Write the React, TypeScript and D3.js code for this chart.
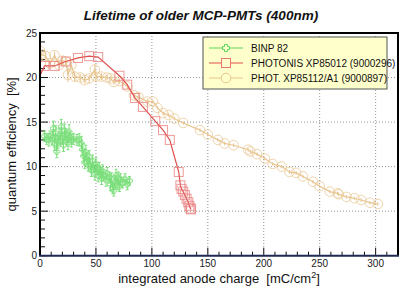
import React from "react";
import * as d3 from "d3";

const title = "Lifetime of older MCP-PMTs (400nm)";
const xTitle = "integrated anode charge\u00a0\u00a0[mC/cm";
const yTitle = "quantum efficiency\u00a0\u00a0[%]";
const seriesNames = ["BINP 82", "PHOTONIS XP85012 (9000296)", "PHOT. XP85112/A1 (9000897)"];
const xTicks = [0, 50, 100, 150, 200, 250, 300];
const yTicks = [0, 5, 10, 15, 20, 25];

// BINP 82: [x, y, err]
const binp: [number, number, number][] = [
  [4, 13.4, 0.6], [6, 13.1, 0.6], [8, 13.0, 0.7], [9, 13.4, 0.6], [11, 13.2, 0.7], [12, 14.3, 0.8],
  [13, 12.5, 0.7], [14, 13.8, 0.8], [15, 11.7, 0.7], [16, 12.8, 0.7], [17, 13.5, 0.8], [18, 12.9, 0.6],
  [19, 14.5, 0.8], [20, 13.2, 0.7], [21, 12.4, 0.7], [22, 14.0, 0.8], [23, 13.6, 0.7], [24, 13.1, 0.6],
  [25, 12.6, 0.7], [26, 13.9, 0.8], [27, 13.3, 0.6], [28, 12.9, 0.7], [30, 13.1, 0.6], [33, 13.0, 0.6],
  [35, 13.0, 0.7], [37, 12.6, 0.8], [38, 11.9, 0.7], [39, 11.2, 0.7], [40, 10.5, 0.7], [41, 11.6, 0.8],
  [42, 10.9, 0.7], [43, 10.2, 0.7], [44, 11.1, 0.7], [45, 10.0, 0.6], [46, 9.6, 0.7], [47, 10.6, 0.7],
  [48, 9.9, 0.6], [49, 9.2, 0.7], [50, 10.3, 0.7], [51, 9.7, 0.6], [52, 9.0, 0.7], [53, 9.8, 0.7],
  [54, 9.3, 0.6], [55, 8.7, 0.7], [56, 9.5, 0.7], [57, 9.0, 0.6], [59, 8.5, 0.7], [60, 9.2, 0.7],
  [62, 8.8, 0.6], [63, 8.0, 0.7], [64, 8.6, 0.7], [65, 7.6, 0.6], [66, 7.3, 0.6], [67, 8.3, 0.7],
  [68, 9.0, 0.7], [69, 8.0, 0.6], [70, 8.7, 0.7], [71, 7.8, 0.6], [72, 8.5, 0.7], [74, 8.2, 0.6],
  [76, 8.6, 0.6], [78, 8.0, 0.6], [80, 8.4, 0.5],
];

// PHOTONIS XP85012
const photonis: [number, number][] = [
  [0, 20.2], [4, 21.3], [13, 21.3], [23, 21.8], [34, 22.2], [44, 22.4], [52, 22.3],
  [71, 20.2], [78, 19.2], [85, 17.7], [92, 16.7], [103, 15.1], [110, 14.1], [116, 13.0],
  [124, 9.4], [125.5, 7.9], [126.5, 7.5], [128, 7.2], [129.5, 6.8], [131, 6.4], [132.5, 6.0],
  [133.5, 5.6], [134.5, 5.3], [135, 5.2],
];

// PHOT. XP85112/A1: [x, y, err]
const phot: [number, number, number][] = [
  [0, 23.0, 0.5], [1, 22.6, 0.5], [5, 22.4, 0.4], [9, 21.6, 0.4], [13, 22.5, 0.4], [17, 21.4, 0.4],
  [20, 21.9, 0.5], [23, 21.8, 0.4], [25, 20.3, 0.8], [28, 21.4, 0.4], [31, 20.1, 0.6], [36, 20.0, 0.4],
  [40, 19.7, 0.4], [44, 19.9, 0.4], [49, 20.9, 0.6], [50, 20.1, 0.5], [55, 20.1, 0.4], [60, 20.0, 0.3],
  [63, 19.9, 0.3], [66, 19.5, 0.3], [71, 19.6, 0.3], [78, 19.0, 0.3], [84, 18.0, 0.3], [88, 17.8, 0.3],
  [96, 17.3, 0.3], [101, 17.3, 0.2], [105, 16.6, 0.2], [110, 16.0, 0.2], [115, 15.8, 0.2], [120, 15.4, 0.2],
  [128, 14.9, 0.2], [143, 14.1, 0.2], [150, 13.6, 0.2], [159, 13.0, 0.2], [165, 12.6, 0.2], [173, 12.4, 0.2],
  [186, 11.9, 0.2], [188, 11.7, 0.2], [194, 11.4, 0.2], [201, 10.9, 0.2], [208, 10.3, 0.2], [216, 10.0, 0.2],
  [223, 9.4, 0.2], [229, 9.3, 0.2], [235, 8.9, 0.2], [244, 8.3, 0.2], [250, 7.8, 0.2], [259, 7.2, 0.2],
  [266, 7.0, 0.2], [267, 6.9, 0.2], [274, 6.6, 0.2], [281, 6.45, 0.2], [287, 6.25, 0.2], [295, 5.95, 0.2],
  [302, 5.8, 0.2],
];

const W = 407, H = 290;
const L = 40, R = 398, T = 33, B = 255.7;
const GREEN = "#5cd85c";
const RED = "#e05050";
const RED_M = "#e87878";
const TAN = "#e8c590";
const FONT = "'Liberation Sans', Arial, Helvetica, sans-serif";

function crossPath(cx: number, cy: number, s: number, a: number) {
  return `M${cx - a},${cy - s}H${cx + a}V${cy - a}H${cx + s}V${cy + a}H${cx + a}V${cy + s}H${cx - a}V${cy + a}H${cx - s}V${cy - a}H${cx - a}Z`;
}

export default function App() {
  const x = d3.scaleLinear().domain([0, 320]).range([L, R]);
  const y = d3.scaleLinear().domain([0, 25]).range([B, T]);
  const line = d3.line<[number, number]>().x((d) => x(d[0])).y((d) => y(d[1]));
  const line3 = d3.line<[number, number, number]>().x((d) => x(d[0])).y((d) => y(d[1]));

  const xMinor = d3.range(0, 321, 10);
  const yMinor = d3.range(0, 25.01, 1);

  const legX = 203, legY = 37, legW = 184, legH = 52;
  const legRows = [48, 63, 78];

  return (
    <svg width={W} height={H} style={{ position: "absolute", left: 0, top: 0 }} fontFamily={FONT}>
      <rect x={0} y={0} width={W} height={H} fill="#fff" />
      <text x={201} y={20} textAnchor="middle" fontSize={13.5} fontWeight="bold" fontStyle="italic" fill="#111">
        {title}
      </text>
      {xTicks.filter((t) => t > 0).map((t) => (
        <line key={"gx" + t} x1={x(t)} x2={x(t)} y1={T} y2={B} stroke="#777" strokeWidth={0.8} strokeDasharray="1,2" />
      ))}
      {yTicks.filter((t) => t > 0 && t < 25).map((t) => (
        <line key={"gy" + t} x1={L} x2={R} y1={y(t)} y2={y(t)} stroke="#777" strokeWidth={0.8} strokeDasharray="1,2" />
      ))}
      {xMinor.map((t) => (
        <line key={"xt" + t} x1={x(t)} x2={x(t)} y1={B} y2={B - (t % 50 === 0 ? 8 : 4)} stroke="#111" strokeWidth={1} />
      ))}
      {yMinor.map((t) => (
        <line key={"yt" + t} x1={L} x2={L + (t % 5 === 0 ? 8 : 5)} y1={y(t)} y2={y(t)} stroke="#111" strokeWidth={1} />
      ))}
      {xTicks.map((t) => (
        <text key={"xl" + t} x={x(t)} y={B + 11} textAnchor="middle" fontSize={10} fill="#222">{t}</text>
      ))}
      {yTicks.map((t) => (
        <text key={"yl" + t} x={L - 3} y={y(t) + 3.5} textAnchor="end" fontSize={10} fill="#222">{t}</text>
      ))}
      <text x={219} y={283} textAnchor="middle" fontSize={13} fill="#111">
        {xTitle}
        <tspan dy={-5} fontSize={9}>2</tspan>
        <tspan dy={5}>]</tspan>
      </text>
      <text transform={`translate(16,${(T + B) / 2}) rotate(-90)`} textAnchor="middle" fontSize={13} fill="#111">
        {yTitle}
      </text>

      <clipPath id="plotclip">
        <rect x={L} y={T} width={R - L} height={B - T} />
      </clipPath>
      <g clipPath="url(#plotclip)">
        <g opacity={0.8}>
          <path d={line3(binp) || ""} fill="none" stroke={GREEN} strokeWidth={1} />
          {binp.map((d, i) => (
            <g key={"b" + i}>
              <line x1={x(d[0])} x2={x(d[0])} y1={y(d[1] - d[2])} y2={y(d[1] + d[2])} stroke={GREEN} strokeWidth={1} />
              <line x1={x(d[0]) - 1.5} x2={x(d[0]) + 1.5} y1={y(d[1] - d[2])} y2={y(d[1] - d[2])} stroke={GREEN} strokeWidth={1} />
              <line x1={x(d[0]) - 1.5} x2={x(d[0]) + 1.5} y1={y(d[1] + d[2])} y2={y(d[1] + d[2])} stroke={GREEN} strokeWidth={1} />
              <path d={crossPath(x(d[0]), y(d[1]), 3, 1.2)} fill="none" stroke={GREEN} strokeWidth={0.8} />
            </g>
          ))}
        </g>
        <g>
          <path d={line3(phot) || ""} fill="none" stroke={TAN} strokeWidth={1.2} />
          {phot.map((d, i) => (
            <g key={"p" + i}>
              <line x1={x(d[0])} x2={x(d[0])} y1={y(d[1] - d[2])} y2={y(d[1] + d[2])} stroke={TAN} strokeWidth={1} />
              <circle cx={x(d[0])} cy={y(d[1])} r={4.8} fill="none" stroke={TAN} strokeWidth={1} strokeOpacity={0.75} />
            </g>
          ))}
        </g>
        <g>
          <path d={line(photonis) || ""} fill="none" stroke={RED} strokeWidth={1.2} />
          {photonis.slice(1).map((d, i) => (
            <rect key={"r" + i} x={x(d[0]) - 4.5} y={y(d[1]) - 4.5} width={9} height={9} fill="none" stroke={RED_M} strokeWidth={1} strokeOpacity={0.75} />
          ))}
        </g>
      </g>

      <line x1={L} x2={L} y1={T} y2={B} stroke="#000" strokeWidth={2} />
      <line x1={L - 1} x2={R + 1} y1={T} y2={T} stroke="#000" strokeWidth={2} />
      <line x1={R} x2={R} y1={T} y2={B} stroke="#000" strokeWidth={2} />
      <line x1={L - 1} x2={R + 1} y1={B} y2={B} stroke="#1f2a55" strokeWidth={2} />

      <rect x={legX} y={legY} width={legW} height={legH} fill="#ffffcc" stroke="#555" strokeWidth={1} />
      <g>
        <line x1={209} x2={243} y1={legRows[0]} y2={legRows[0]} stroke={GREEN} strokeWidth={1.2} />
        <line x1={226} x2={226} y1={legRows[0] - 4} y2={legRows[0] + 4} stroke={GREEN} strokeWidth={1.2} />
        <path d={crossPath(226, legRows[0], 3.5, 1.5)} fill="#ffffcc" stroke={GREEN} strokeWidth={1} />
        <line x1={209} x2={243} y1={legRows[1]} y2={legRows[1]} stroke={RED} strokeWidth={1.2} />
        <rect x={221.5} y={legRows[1] - 4.5} width={9} height={9} fill="#ffffcc" stroke={RED_M} strokeWidth={1} />
        <line x1={209} x2={243} y1={legRows[2]} y2={legRows[2]} stroke={TAN} strokeWidth={1.2} />
        <circle cx={226} cy={legRows[2]} r={4.8} fill="#ffffcc" stroke={TAN} strokeWidth={1} />
        {seriesNames.map((n, i) => (
          <text key={n} x={251} y={legRows[i] + 3.5} fontSize={10} fill="#111">{n}</text>
        ))}
      </g>
    </svg>
  );
}
